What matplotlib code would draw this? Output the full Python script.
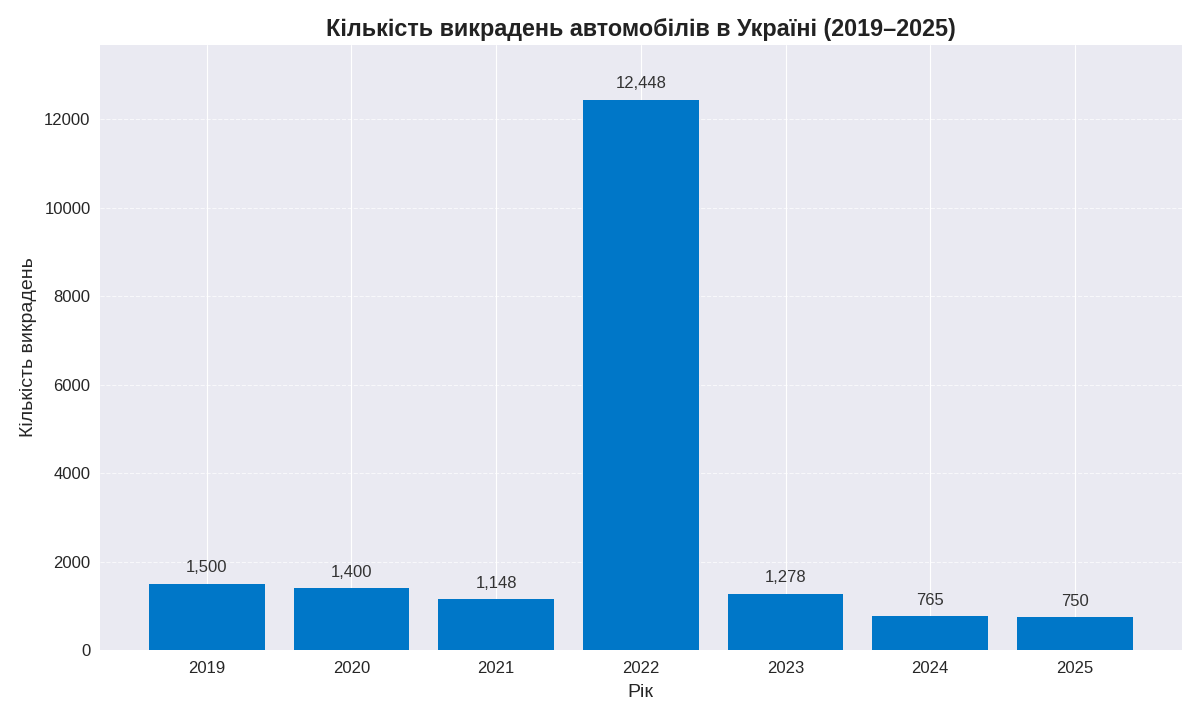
import matplotlib
matplotlib.use('Agg')
import matplotlib.pyplot as plt

years = ['2019', '2020', '2021', '2022', '2023', '2024', '2025']
thefts = [1500, 1400, 1148, 12448, 1278, 765, 750]

plt.style.use('seaborn-v0_8-darkgrid')
plt.rcParams['font.family'] = ['Liberation Sans', 'DejaVu Sans']

fig, ax = plt.subplots(figsize=(12, 7.2), dpi=100)
bars = ax.bar(years, thefts, color='#0077c8', width=0.8)

for b, v in zip(bars, thefts):
    ax.annotate(f'{v:,}', (b.get_x() + b.get_width() / 2, v),
                xytext=(0, 6), textcoords='offset points',
                ha='center', va='bottom', fontsize=12, color='#333333')

ax.set_ylim(0, max(thefts) * 1.1)
ax.yaxis.grid(True, linestyle='--', alpha=0.7)
ax.set_title('Кількість викрадень автомобілів в Україні (2019–2025)',
             fontsize=16.8, fontweight='bold', color='#222222', pad=6)
ax.set_xlabel('Рік', fontsize=14, labelpad=6)
ax.set_ylabel('Кількість викрадень', fontsize=14, labelpad=5)
ax.tick_params(axis='x', labelsize=12, pad=7.5)
ax.tick_params(axis='y', labelsize=12, pad=6.5)

fig.subplots_adjust(left=0.083, right=0.985, top=0.938, bottom=0.097)
fig.savefig('out.png', dpi=100)
